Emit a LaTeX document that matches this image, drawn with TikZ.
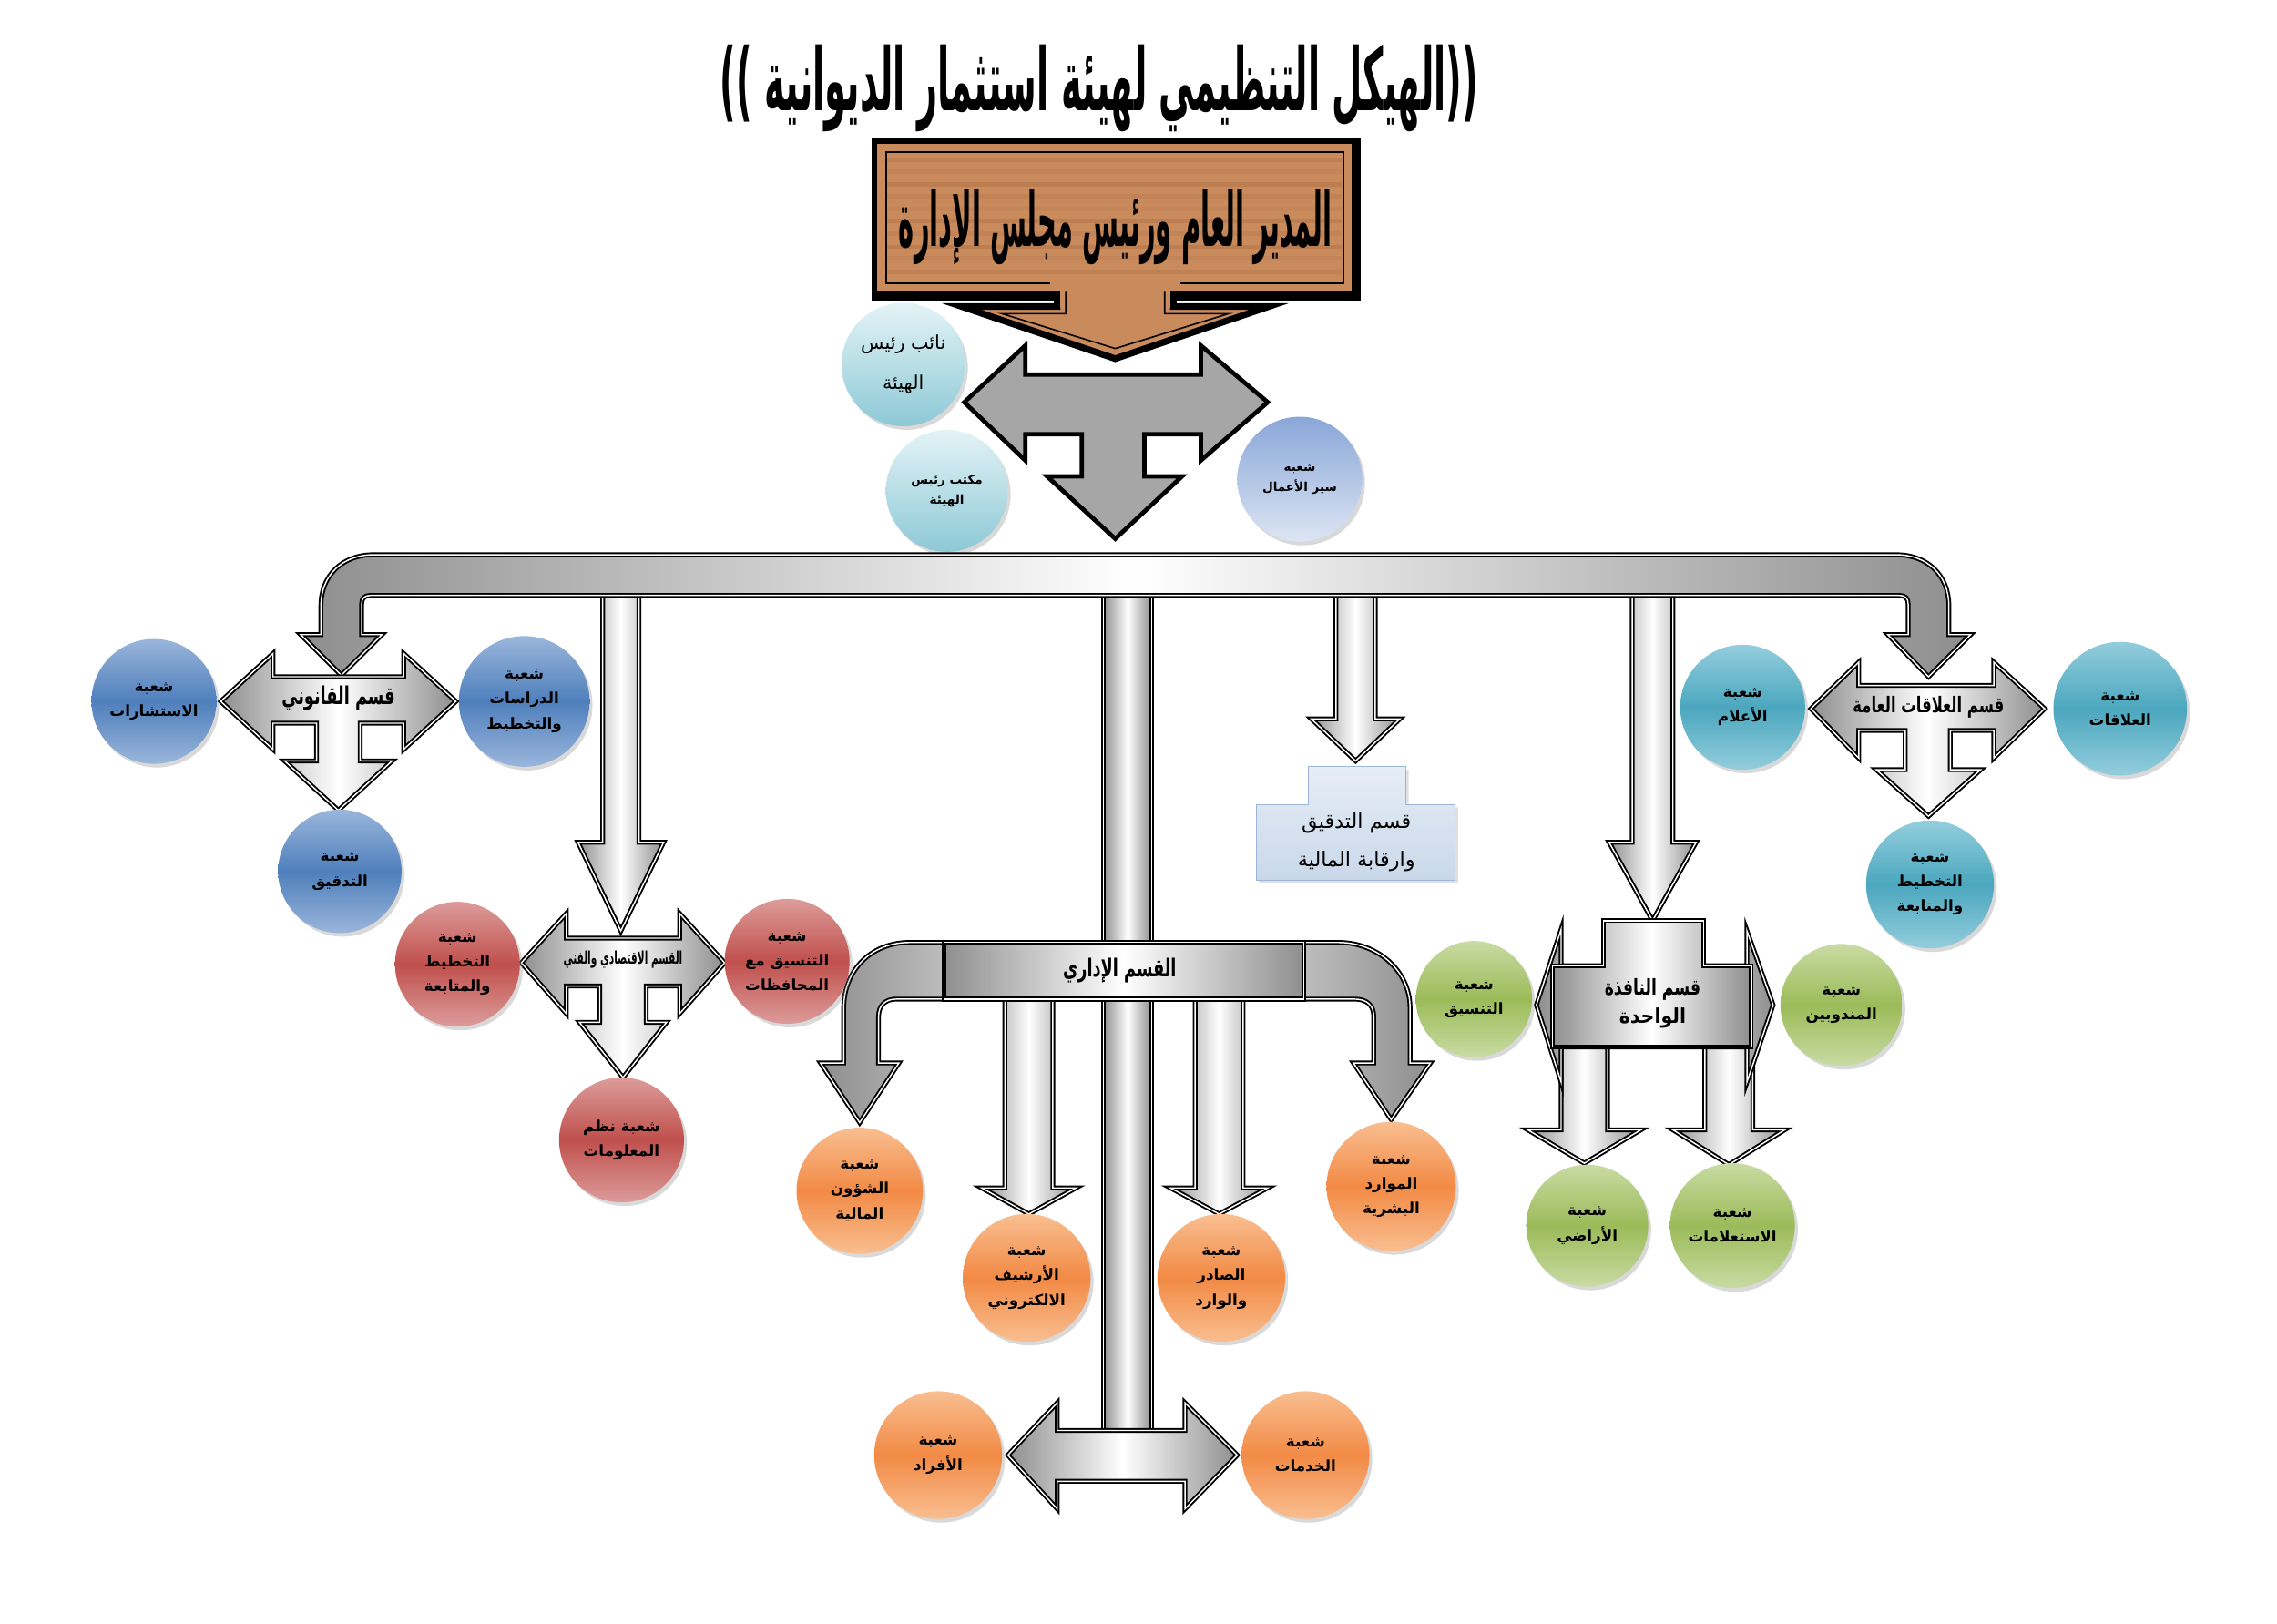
\documentclass[tikz,border=0pt]{standalone}
\usepackage{fontspec}
\usepackage{graphicx}
\usetikzlibrary{shadows}
\newfontfamily\arabicfont[Script=Arabic]{DejaVu Sans}
\TeXXeTstate=1
\newcommand{\artxt}[1]{\beginR #1\endR}
\definecolor{secblue}{HTML}{4F7FBC}
\definecolor{secbluelight}{HTML}{9AB6DB}
\definecolor{secred}{HTML}{C0504D}
\definecolor{secredlight}{HTML}{DC9C9A}
\definecolor{secorange}{HTML}{F28A45}
\definecolor{secorangelight}{HTML}{F9BE90}
\definecolor{secgreen}{HTML}{9BBB59}
\definecolor{secgreenlight}{HTML}{C9DBA3}
\definecolor{secteal}{HTML}{4BA7BE}
\definecolor{sectealight}{HTML}{93CDDD}
\definecolor{paleteal}{HTML}{8DC9D6}
\definecolor{paletealight}{HTML}{E3F3F6}
\definecolor{paleblue}{HTML}{8AA6D8}
\definecolor{palebluelight}{HTML}{DCE5F3}
\definecolor{wood}{HTML}{C98A5C}
\definecolor{wooddark}{HTML}{9E6038}
\definecolor{steel}{HTML}{8E8E8E}
\definecolor{flatgray}{HTML}{A6A6A6}
\definecolor{auditfill}{HTML}{C9D8EA}
\definecolor{auditlight}{HTML}{E6EDF6}
\definecolor{auditdraw}{HTML}{9DB6D6}
\tikzset{
  metal/.style={draw=black, line width=1.2pt, double=white, double distance=0.9pt, line join=miter, left color=steel, right color=steel, middle color=white},
  flatarrow/.style={draw=black, line width=3pt, fill=flatgray, line join=miter},
  unit/.style={circle, inner sep=0pt, align=center, text=black, font=\arabicfont\bfseries\fontsize{10.5}{17}\selectfont, drop shadow={opacity=0.3, shadow xshift=2pt, shadow yshift=-2.5pt}},
  blueunit/.style={unit, top color=secbluelight, bottom color=secbluelight, middle color=secblue},
  redunit/.style={unit, top color=secredlight, bottom color=secredlight, middle color=secred},
  orangeunit/.style={unit, top color=secorangelight, bottom color=secorangelight, middle color=secorange},
  greenunit/.style={unit, top color=secgreenlight, bottom color=secgreenlight, middle color=secgreen},
  tealunit/.style={unit, top color=sectealight, bottom color=sectealight, middle color=secteal},
  paleunit/.style={unit, top color=paletealight, bottom color=paleteal},
  periunit/.style={unit, top color=paleblue, bottom color=palebluelight},
  armlabel/.style={font=\arabicfont\bfseries, inner sep=0pt},
  auditbox/.style={draw=auditdraw, line width=0.8pt, top color=auditlight, bottom color=auditfill, drop shadow={opacity=0.25, shadow xshift=2pt, shadow yshift=-2pt}}
}
\begin{document}
\begin{tikzpicture}[x=1pt, y=-1pt]
  \useasboundingbox (0,0) rectangle (1568,1118);
  \node (title) at (757,61) {\resizebox*{522pt}{60pt}{\arabicfont\bfseries\artxt{((الهيكل التنظيمي لهيئة استثمار الديوانية ))}}};

  \fill[wood] (728,195) -- (728,211) -- (662,211) -- (768,247) -- (874,211) -- (808,211) -- (808,195) -- cycle;
  \draw[black, line width=4.5pt, line join=miter] (728,204) -- (728,211) -- (662,211) -- (768,247) -- (874,211) -- (808,211) -- (808,204);
  \fill[black] (600,95) rectangle (937,207);
  \fill[wood] (604,99) rectangle (931,201);
  \fill[wood] (730,199) rectangle (806,212);
  \foreach \yy/\op in {110/0.25,118/0.12,127/0.3,135/0.18,144/0.1,152/0.28,161/0.15,170/0.3,178/0.12,187/0.22}{
    \draw[wooddark, opacity=\op, line width=3pt] (611,\yy) -- (924,\yy);
  }
  \draw[black, line width=1.2pt] (723,195) -- (610,195) -- (610,105) -- (925,105) -- (925,195) -- (813,195);
  \draw[black, line width=1pt, line join=miter] (734,201) -- (734,216) -- (690,216) -- (768,240) -- (846,216) -- (802,216) -- (802,201);
  \node (gm) at (768,156) {\resizebox*{298pt}{52pt}{\arabicfont\bfseries\artxt{المدير العام ورئيس مجلس الإدارة}}};

  \path[flatarrow] (664,277) -- (706,238) -- (706,258) -- (827,258) -- (827,238) -- (873,277) -- (827,317) -- (827,299) -- (788,299) -- (788,328) -- (814,328) -- (768,371) -- (721,328) -- (745,328) -- (745,299) -- (706,299) -- (706,317) -- cycle;

  \node[paleunit, minimum size=85pt, font=\arabicfont\fontsize{13}{28}\selectfont] (vp) at (622,251) {\artxt{نائب رئيس}\\\artxt{الهيئة}};
  \node[paleunit, minimum size=84pt, font=\arabicfont\bfseries\fontsize{8.5}{14}\selectfont] (office) at (652,338) {\artxt{مكتب رئيس}\\\artxt{الهيئة}};
  \node[periunit, minimum size=86pt, font=\arabicfont\bfseries\fontsize{8.5}{14}\selectfont] (workflow) at (895,330) {\artxt{شعبة}\\\artxt{سير الأعمال}};

  \foreach \xl/\xr/\yt/\yh/\hw/\yp in {415/440/400/580/17/641, 920/947/400/495/17/524, 1124/1152/400/580/16/634, 692/725/680/818/16/836, 823/856/680/818/17/836, 1075/1107/715/778/23/801, 1174/1207/715/778/22/802}{
    \path[metal] (\xl,\yt) -- (\xl,\yh) -- ({\xl-\hw},\yh) -- ({(\xl+\xr)/2},\yp) -- ({\xr+\hw},\yh) -- (\xr,\yh) -- (\xr,\yt) -- cycle;
  }
  \path[metal] (760,400) rectangle (793,992);

  \path[metal] (235,465) -- (207,437) -- (221,437) -- (221,417) .. controls (221,396) and (236,382) .. (257,382) -- (1306,382) .. controls (1327,382) and (1342,396) .. (1342,417) -- (1342,437) -- (1357,437) -- (1328,466) -- (1300,437) -- (1314,437) -- (1314,416) .. controls (1314,412) and (1312,410) .. (1308,410) -- (255,410) .. controls (251,410) and (249,412) .. (249,416) -- (249,437) -- (263,437) -- cycle;

  \path[metal] (152,483) -- (188,450) -- (188,466) -- (278,466) -- (278,450) -- (314,483) -- (278,516) -- (278,498) -- (248,498) -- (248,524) -- (270,524) -- (233,558) -- (196,524) -- (218,524) -- (218,498) -- (188,498) -- (188,516) -- cycle;
  \node[armlabel] (legal) at (233,481) {\resizebox*{78pt}{17pt}{\artxt{قسم القانوني}}};

  \path[metal] (359,663) -- (390,629) -- (390,646) -- (468,646) -- (468,629) -- (499,663) -- (468,698) -- (468,679) -- (445,679) -- (445,704) -- (459,704) -- (429,742) -- (399,704) -- (413,704) -- (413,679) -- (390,679) -- (390,698) -- cycle;
  \node[armlabel] (econ) at (429,661) {\resizebox*{82pt}{12pt}{\artxt{القسم الاقتصادي والفني}}};

  \path[metal] (1247,488) -- (1280,456) -- (1280,472) -- (1373,472) -- (1373,456) -- (1408,488) -- (1373,522) -- (1373,503) -- (1343,503) -- (1343,530) -- (1364,530) -- (1328,562) -- (1292,530) -- (1312,530) -- (1312,503) -- (1280,503) -- (1280,522) -- cycle;
  \node[armlabel] (pr) at (1328,487) {\resizebox*{104pt}{15pt}{\artxt{قسم العلاقات العامة}}};

  \path[auditbox] (865,554) -- (901,554) -- (901,528) -- (968,528) -- (968,554) -- (1002,554) -- (1002,606) -- (865,606) -- cycle;
  \node[font=\arabicfont\fontsize{14}{26}\selectfont, align=center] (auditdept) at (934,580) {\artxt{قسم التدقيق}\\\artxt{وارقابة المالية}};

  \path[metal] (1058,692) -- (1075,640) -- (1075,665) -- (1203,665) -- (1203,641) -- (1221,692) -- (1203,745) -- (1203,721) -- (1075,721) -- (1075,745) -- cycle;
  \path[metal] (1069,665) -- (1104,665) -- (1104,634) -- (1173,634) -- (1173,665) -- (1206,665) -- (1206,721) -- (1069,721) -- cycle;
  \node[armlabel, align=center] (window) at (1138,691) {\resizebox*{66pt}{15pt}{\artxt{قسم النافذة}}\\[4pt]\resizebox*{46pt}{14pt}{\artxt{الواحدة}}};

  \path[metal] (592,773) -- (565,732) -- (581,732) -- (581,694) .. controls (581,668) and (600,649) .. (626,649) -- (922,649) .. controls (948,649) and (971,668) .. (971,694) -- (971,732) -- (985,732) -- (958,771) -- (932,732) -- (946,732) -- (946,700) .. controls (946,692) and (941,688) .. (933,688) -- (617,688) .. controls (610,688) and (605,692) .. (605,700) -- (605,732) -- (619,732) -- cycle;
  \path[metal] (650,649) rectangle (898,688);
  \node[armlabel] (admin) at (771,668) {\resizebox*{78pt}{17pt}{\artxt{القسم الإداري}}};

  \path[metal] (694,1002) -- (728,966) -- (728,985) -- (816,985) -- (816,966) -- (852,1002) -- (816,1039) -- (816,1020) -- (728,1020) -- (728,1039) -- cycle;

  \node[blueunit, minimum size=86pt] (consult) at (106,483) {\artxt{شعبة}\\\artxt{الاستشارات}};
  \node[blueunit, minimum size=90pt] (studies) at (361,483) {\artxt{شعبة}\\\artxt{الدراسات}\\\artxt{والتخطيط}};
  \node[blueunit, minimum size=85pt] (auditsec) at (234,600) {\artxt{شعبة}\\\artxt{التدقيق}};

  \node[redunit, minimum size=86pt] (ecoplan) at (315,664) {\artxt{شعبة}\\\artxt{التخطيط}\\\artxt{والمتابعة}};
  \node[redunit, minimum size=86pt] (govcoord) at (542,662) {\artxt{شعبة}\\\artxt{التنسيق مع}\\\artxt{المحافظات}};
  \node[redunit, minimum size=86pt] (infosys) at (428,785) {\artxt{شعبة نظم}\\\artxt{المعلومات}};

  \node[orangeunit, minimum size=87pt] (finance) at (592,820) {\artxt{شعبة}\\\artxt{الشؤون}\\\artxt{المالية}};
  \node[orangeunit, minimum size=88pt] (archive) at (707,880) {\artxt{شعبة}\\\artxt{الأرشيف}\\\artxt{الالكتروني}};
  \node[orangeunit, minimum size=88pt] (mail) at (841,880) {\artxt{شعبة}\\\artxt{الصادر}\\\artxt{والوارد}};
  \node[orangeunit, minimum size=89pt] (hr) at (958,817) {\artxt{شعبة}\\\artxt{الموارد}\\\artxt{البشرية}};
  \node[orangeunit, minimum size=88pt] (staff) at (646,1002) {\artxt{شعبة}\\\artxt{الأفراد}};
  \node[orangeunit, minimum size=88pt] (services) at (899,1002) {\artxt{شعبة}\\\artxt{الخدمات}};

  \node[greenunit, minimum size=80pt] (swcoord) at (1015,688) {\artxt{شعبة}\\\artxt{التنسيق}};
  \node[greenunit, minimum size=84pt] (delegates) at (1268,692) {\artxt{شعبة}\\\artxt{المندوبين}};
  \node[greenunit, minimum size=84pt] (lands) at (1093,844) {\artxt{شعبة}\\\artxt{الأراضي}};
  \node[greenunit, minimum size=86pt] (inquiry) at (1193,844) {\artxt{شعبة}\\\artxt{الاستعلامات}};

  \node[tealunit, minimum size=86pt] (media) at (1200,487) {\artxt{شعبة}\\\artxt{الأعلام}};
  \node[tealunit, minimum size=92pt] (relations) at (1460,488) {\artxt{شعبة}\\\artxt{العلاقات}};
  \node[tealunit, minimum size=88pt] (prplan) at (1329,609) {\artxt{شعبة}\\\artxt{التخطيط}\\\artxt{والمتابعة}};
\end{tikzpicture}
\end{document}
